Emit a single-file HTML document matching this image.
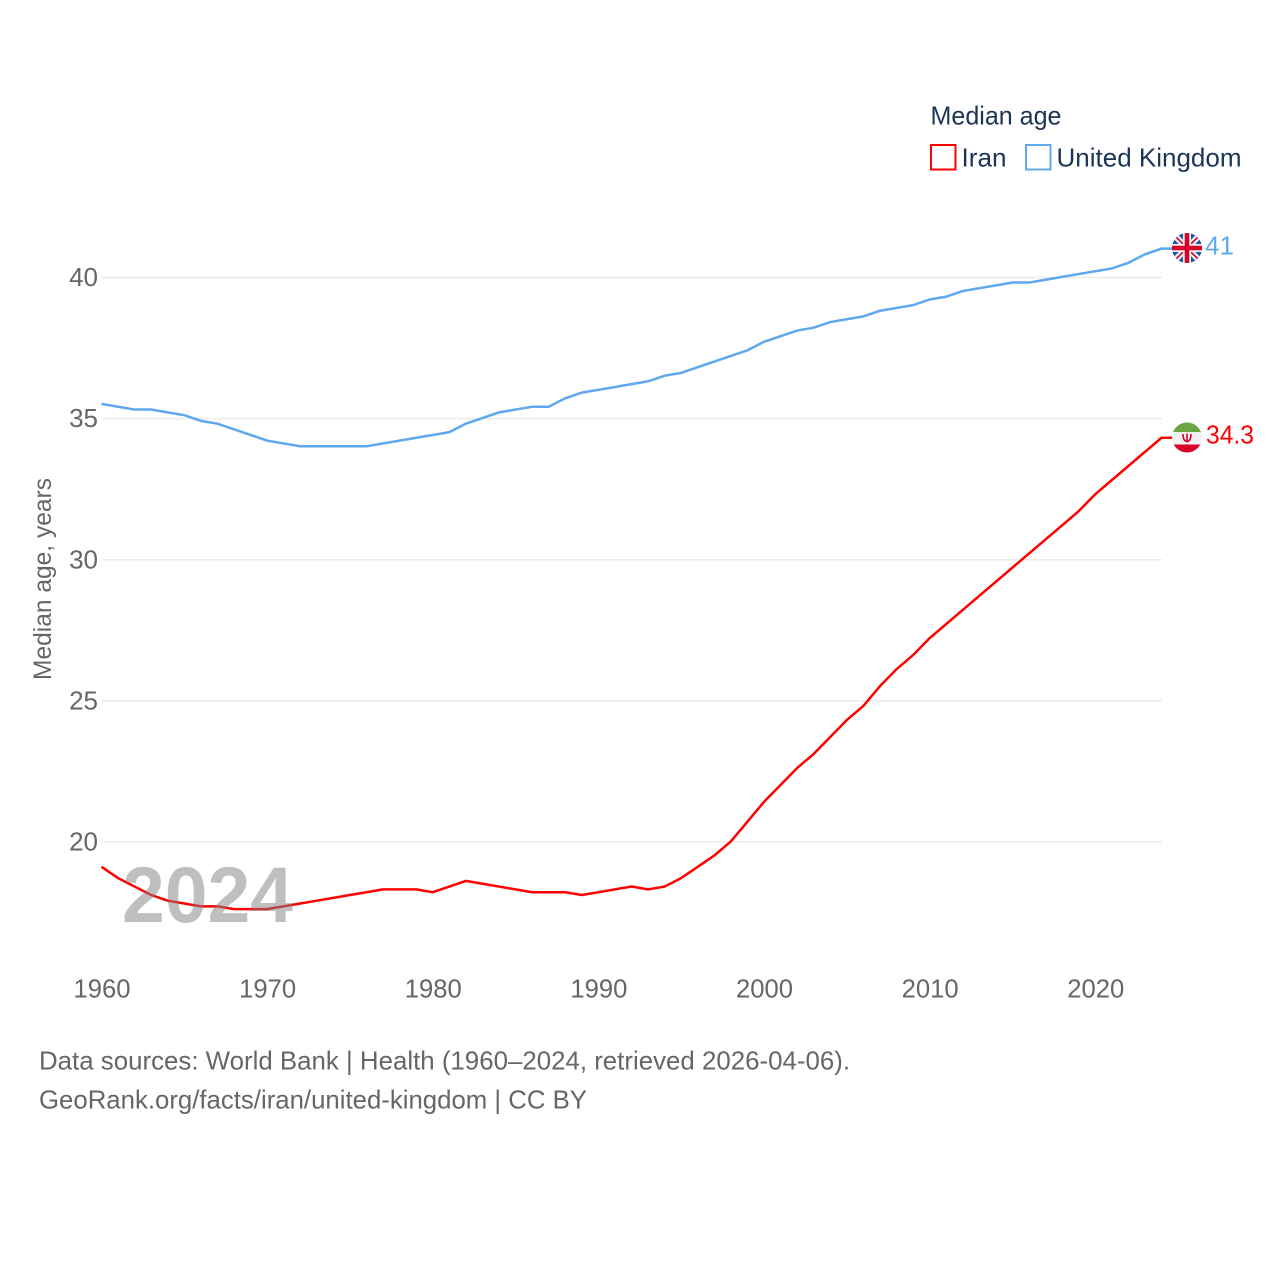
<!DOCTYPE html>
<html lang="en">
<head>
<meta charset="utf-8">
<title>Median age: Iran and United Kingdom</title>
<style>
html,body{margin:0;padding:0;background:#fff}
svg{display:block;font-family:"Liberation Sans",sans-serif}
</style>
</head>
<body>
<svg id="chart" width="1280" height="1280" viewBox="0 0 1280 1280" xmlns="http://www.w3.org/2000/svg">
  <defs>
    <clipPath id="uk-clip"><circle cx="1187" cy="248" r="15"/></clipPath>
    <clipPath id="iran-clip"><circle cx="1187" cy="437.500" r="15"/></clipPath>
  </defs>
  <g id="grid"></g>
  <g id="ticks"></g>
  <g id="series"></g>
  <text x="122" y="922" font-size="79" font-weight="700" fill="#808080" fill-opacity="0.5" textLength="171" lengthAdjust="spacingAndGlyphs">2024</text>
  <text transform="translate(51,680) rotate(-90)" font-size="25" fill="#666666" textLength="202" lengthAdjust="spacingAndGlyphs">Median age, years</text>

  <g>
    <text x="930.500" y="124.500" font-size="26" fill="#1b3556" textLength="131" lengthAdjust="spacingAndGlyphs">Median age</text>
    <rect x="931" y="145" width="24.500" height="24.500" fill="none" stroke="#ff0000" stroke-width="2"/>
    <text x="961.500" y="166.500" font-size="26" fill="#1b3556" textLength="45" lengthAdjust="spacingAndGlyphs">Iran</text>
    <rect x="1026" y="145" width="24.500" height="24.500" fill="none" stroke="#5fa8ee" stroke-width="2"/>
    <text x="1056.500" y="166.500" font-size="26" fill="#1b3556" textLength="185" lengthAdjust="spacingAndGlyphs">United Kingdom</text>
  </g>

  <g clip-path="url(#uk-clip)">
    <rect x="1172" y="233" width="30" height="30" fill="#1557b0"/>
    <path d="M1172 233L1202 263M1202 233L1172 263" stroke="#f0f0f0" stroke-width="6"/>
    <path d="M1172 233L1202 263M1202 233L1172 263" stroke="#d80027" stroke-width="1.600"/>
    <path d="M1187 233V263M1172 248H1202" stroke="#f0f0f0" stroke-width="8"/>
    <path d="M1187 233V263M1172 248H1202" stroke="#d80027" stroke-width="4.500"/>
  </g>
  <g clip-path="url(#iran-clip)">
    <rect x="1172" y="422" width="30" height="10" fill="#6da544"/>
    <rect x="1172" y="432" width="30" height="12.500" fill="#f0f0f0"/>
    <rect x="1172" y="444.500" width="30" height="9" fill="#d80027"/>
    <path d="M1183 434C1183 439.500 1185 441.500 1187 441.500C1189 441.500 1191 439.500 1191 434M1187 433.500V441.500" fill="none" stroke="#d80027" stroke-width="1.600"/>
  </g>

  <text x="1205" y="254.500" font-size="26" fill="#5fa8ee" textLength="29" lengthAdjust="spacingAndGlyphs">41</text>
  <text x="1206" y="443.500" font-size="26" fill="#ff0000" textLength="48" lengthAdjust="spacingAndGlyphs">34.3</text>

  <text x="39" y="1069.500" font-size="26" fill="#666666" textLength="811" lengthAdjust="spacingAndGlyphs">Data sources: World Bank | Health (1960–2024, retrieved 2026-04-06).</text>
  <text x="39" y="1108.500" font-size="26" fill="#666666" textLength="548" lengthAdjust="spacingAndGlyphs">GeoRank.org/facts/iran/united-kingdom | CC BY</text>
</svg>
<script>
const years = [1960,1961,1962,1963,1964,1965,1966,1967,1968,1969,1970,1971,1972,1973,1974,1975,1976,1977,1978,1979,1980,1981,1982,1983,1984,1985,1986,1987,1988,1989,1990,1991,1992,1993,1994,1995,1996,1997,1998,1999,2000,2001,2002,2003,2004,2005,2006,2007,2008,2009,2010,2011,2012,2013,2014,2015,2016,2017,2018,2019,2020,2021,2022,2023,2024];
const iranValues = [19.1,18.7,18.4,18.1,17.9,17.8,17.7,17.7,17.6,17.6,17.6,17.7,17.8,17.9,18.0,18.1,18.2,18.3,18.3,18.3,18.2,18.4,18.6,18.5,18.4,18.3,18.2,18.2,18.2,18.1,18.2,18.3,18.4,18.3,18.4,18.7,19.1,19.5,20.0,20.7,21.4,22.0,22.6,23.1,23.7,24.3,24.8,25.5,26.1,26.6,27.2,27.7,28.2,28.7,29.2,29.7,30.2,30.7,31.2,31.7,32.3,32.8,33.3,33.8,34.3];
const ukValues = [35.5,35.4,35.3,35.3,35.2,35.1,34.9,34.8,34.6,34.4,34.2,34.1,34.0,34.0,34.0,34.0,34.0,34.1,34.2,34.3,34.4,34.5,34.8,35.0,35.2,35.3,35.4,35.4,35.7,35.9,36.0,36.1,36.2,36.3,36.5,36.6,36.8,37.0,37.2,37.4,37.7,37.9,38.1,38.2,38.4,38.5,38.6,38.8,38.9,39.0,39.2,39.3,39.5,39.6,39.7,39.8,39.8,39.9,40.0,40.1,40.2,40.3,40.5,40.8,41.0];
const xTickLabels = [1960,1970,1980,1990,2000,2010,2020];
const yTickLabels = [20,25,30,35,40];

const NS = 'http://www.w3.org/2000/svg';
const xScale = function (year) { return 102 + (year - 1960) * (1162 - 102) / (2024 - 1960); };
const yScale = function (value) { return 842 - (value - 20) * (842 - 277.5) / (40 - 20); };
const gridLayer = document.getElementById('grid');
const tickLayer = document.getElementById('ticks');
const seriesLayer = document.getElementById('series');

yTickLabels.forEach(function (tick) {
  const gridline = document.createElementNS(NS, 'line');
  
  
  gridline.setAttribute('x1', 102);
  gridline.setAttribute('x2', 1162);
  gridline.setAttribute('y1', yScale(tick));
  gridline.setAttribute('y2', yScale(tick));
  gridline.setAttribute('stroke', '#ebebeb');
  gridline.setAttribute('stroke-width', 1.5);
  gridLayer.appendChild(gridline);

  const label = document.createElementNS(NS, 'text');
  
  
  label.setAttribute('x', 98);
  label.setAttribute('y', yScale(tick) + 8.5);
  label.setAttribute('text-anchor', 'end');
  label.setAttribute('font-size', 26);
  label.setAttribute('fill', '#666666');
  label.textContent = tick;
  tickLayer.appendChild(label);
});

xTickLabels.forEach(function (tick) {
  const label = document.createElementNS(NS, 'text');
  
  
  label.setAttribute('x', xScale(tick));
  label.setAttribute('y', 997.5);
  label.setAttribute('text-anchor', 'middle');
  label.setAttribute('font-size', 26);
  label.setAttribute('fill', '#666666');
  label.setAttribute('textLength', 57);
  label.setAttribute('lengthAdjust', 'spacingAndGlyphs');
  label.textContent = tick;
  tickLayer.appendChild(label);
});

function linePoints(values) {
  const points = values.map(function (value, i) {
    return (xScale(years[i]) - 0.5).toFixed(2) + ',' + (yScale(value) - 0.6).toFixed(2);
  });
  points.push('1172,' + (yScale(values[values.length - 1]) - 0.6).toFixed(2));
  return points.join(' ');
}

const ukLine = document.createElementNS(NS, 'polyline');


ukLine.setAttribute('points', linePoints(ukValues));
ukLine.setAttribute('fill', 'none');
ukLine.setAttribute('stroke', '#5fa8ee');
ukLine.setAttribute('stroke-width', 2.5);
seriesLayer.appendChild(ukLine);

const iranLine = document.createElementNS(NS, 'polyline');


iranLine.setAttribute('points', linePoints(iranValues));
iranLine.setAttribute('fill', 'none');
iranLine.setAttribute('stroke', '#ff0000');
iranLine.setAttribute('stroke-width', 2.5);
seriesLayer.appendChild(iranLine);
</script>
</body>
</html>
